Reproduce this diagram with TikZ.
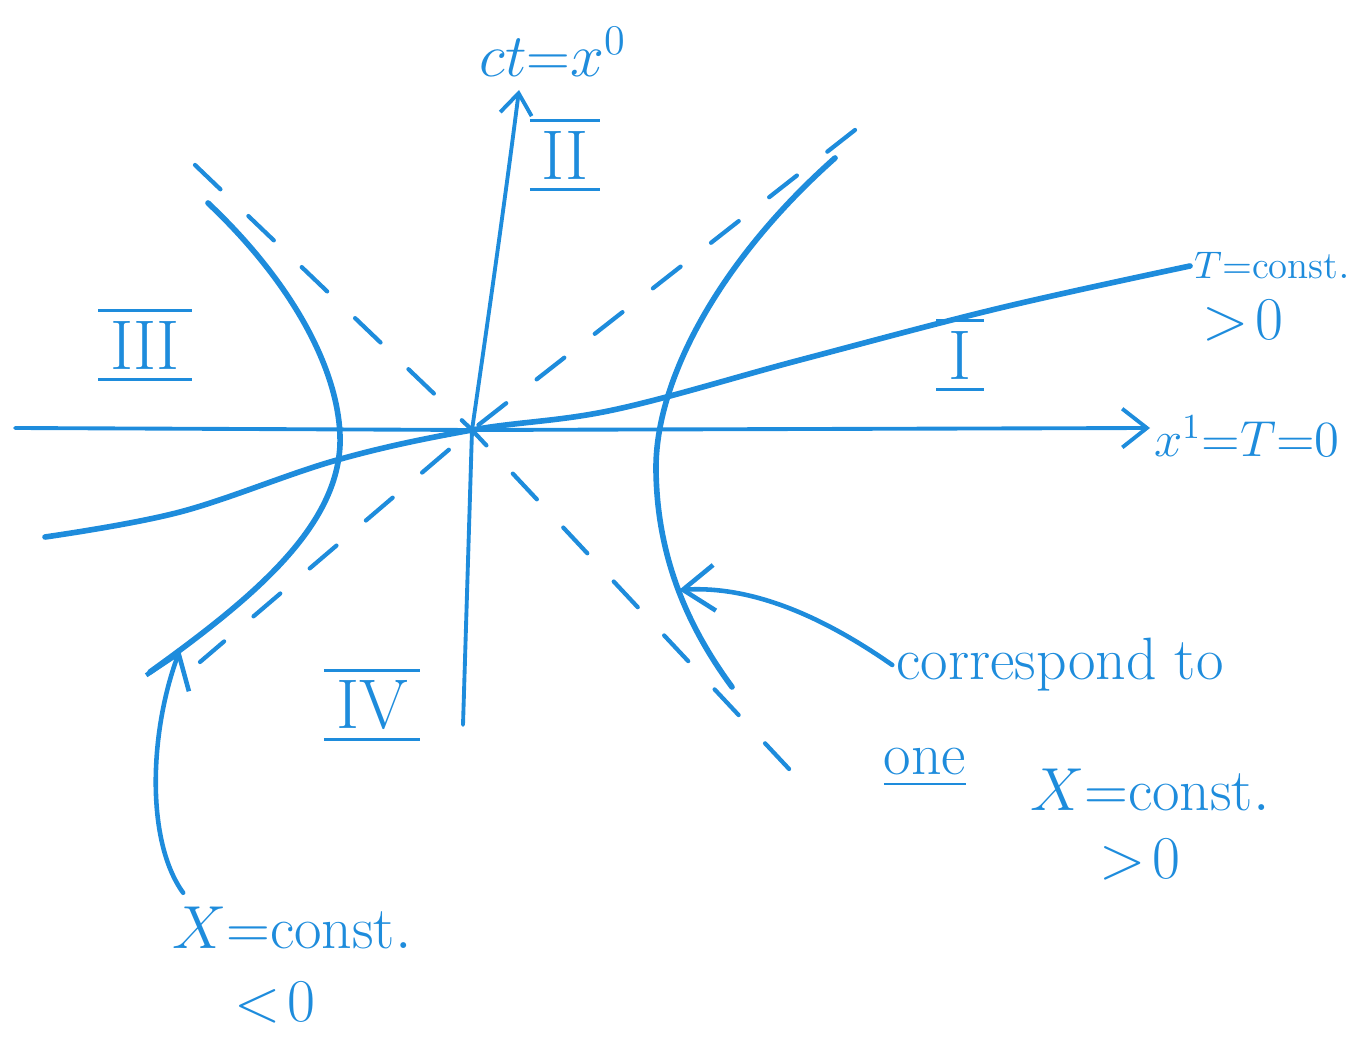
\documentclass[tikz,border=0pt]{standalone}
\usepackage{amsmath}
\usepackage{fontspec}
\usepackage{xcolor}
\usetikzlibrary{arrows.meta,positioning}
\definecolor{pen}{RGB}{30,140,220}

\begin{document}
\begin{tikzpicture}[
  x=0.01cm, y=-0.01cm,
  ink/.style={draw=pen, line cap=round, line join=round},
  axis/.style={ink, line width=1.1pt},
  curve/.style={ink, line width=1.6pt},
  cone/.style={ink, line width=1.2pt, dash pattern=on 10pt off 11pt},
  arrow/.style={ink, line width=1.3pt, -{Straight Barb[length=9pt,width=13pt]}},
  txt/.style={text=pen, font=\fontsize{17}{20}\selectfont, inner sep=1pt},
  small/.style={txt, font=\fontsize{14}{17}\selectfont},
  tiny/.style={txt, font=\fontsize{11}{13}\selectfont},
  region/.style={text=pen, font=\fontsize{20}{24}\selectfont, inner sep=1pt}
]
\useasboundingbox (0,0) rectangle (1370,1037);

\coordinate (o) at (472,430);
\coordinate (xleft) at (15,428);
\coordinate (ybot) at (463,725);
\coordinate (ytip) at (519,90);
\coordinate (hypR) at (679,590);
\coordinate (hypL) at (180,650);

\node[txt] (ct) at (553,52) {$ct{=}x^0$};
\node[small, anchor=west] (x1) at (1150,436) {$x^1{=}T{=}0$};
\node[tiny, anchor=west] (tc) at (1190,266) {$T{=}\mathrm{const.}$};
\node[txt, anchor=north west] (tpos) at (1198,296) {$>\!0$};
\node[txt] (corr) at (1060,665) {correspond to};
\node[txt] (one) at (925,768) {\underline{one}};
\node[txt] (xpos) at (1150,790) {$X{=}\mathrm{const.}$};
\node[txt] (xposgt) at (1140,860) {$>\!0$};
\node[txt] (xneg) at (292,928) {$X{=}\mathrm{const.}$};
\node[txt] (xneglt) at (275,1003) {$<\!0$};

\node[region] (rI) at (960,355) {$\overline{\underline{\,\mathrm{I}\,}}$};
\node[region] (rII) at (565,155) {$\overline{\underline{\,\mathrm{II}\,}}$};
\node[region] (rIII) at (145,345) {$\overline{\underline{\,\mathrm{III}\,}}$};
\node[region] (rIV) at (372,705) {$\overline{\underline{\,\mathrm{IV}\,}}$};

\draw[axis, -{Straight Barb[length=7pt,width=11pt]}] (xleft) -- (o) -- (x1.west |- xleft);
\draw[axis, -{Straight Barb[length=6pt,width=9pt]}] (ybot) -- (o) .. controls (488,320) and (505,200) .. (ytip);

\draw[cone] (195,165) -- (o) -- (790,770);
\draw[cone] (855,130) -- (o) -- (200,662);

\draw[curve] (835,158) .. controls (720,260) and (655,380) .. (656,470) .. controls (657,560) and (690,630) .. (732,687);
\draw[curve] (208,203) .. controls (300,290) and (342,380) .. (340,445) .. controls (336,530) and (250,600) .. (150,672);

\draw[curve] plot[smooth, tension=0.6] coordinates {(45,537) (180,512) (337,460) (o) (613,410) (800,360) (1000,308) (tc.west)};

\draw[arrow] (corr.west) .. controls (835,625) and (760,585) .. (hypR);
\draw[arrow] ([xshift=0.15cm,yshift=0.1cm]xneg.north west) .. controls (145,840) and (150,730) .. (hypL);
\end{tikzpicture}
\end{document}
